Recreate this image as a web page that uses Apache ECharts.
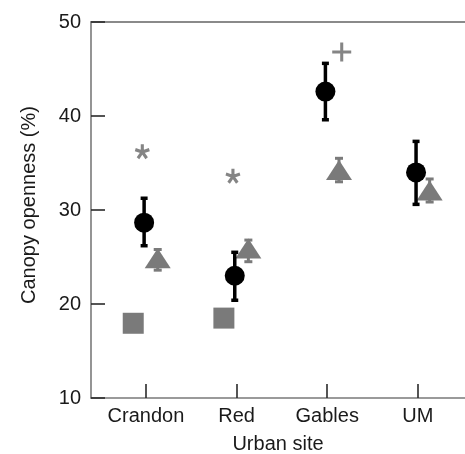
<!DOCTYPE html>
<html>
<head>
<meta charset="utf-8">
<script src="https://cdn.jsdelivr.net/npm/echarts@6/dist/echarts.min.js"></script>
<style>html,body{margin:0;padding:0;background:#fff}#c{width:465px;height:454px}</style>
</head>
<body>
<div id="c"></div>
<script>
// ---- data ----
var sites = ['Crandon', 'Red', 'Gables', 'UM'];
var yTicks = [10, 20, 30, 40, 50];
var circleMean = [28.65, 23.0, 42.6, 34.0];
var circleLow  = [26.2, 20.4, 39.6, 30.6];
var circleHigh = [31.25, 25.5, 45.6, 37.3];
var triangleMean = [24.86, 25.9, 34.26, 32.07];
var triangleLow  = [23.6, 24.5, 33.0, 30.85];
var triangleHigh = [25.8, 26.8, 35.5, 33.3];
var squareVal   = [17.95, 18.5, null, null];
var asteriskVal = [36.2, 33.6, null, null];
var plusVal     = [null, null, 46.8, null];

// ---- styling constants ----
var GRAY = '#7a7a7a';
var FONT = 'Liberation Sans, Arial, Helvetica, sans-serif';
var off = { circle: -0.02, triangle: 0.13, square: -0.14, asterisk: -0.04, plus: 0.16 };

function pts(vals, dx) {
  var out = [];
  vals.forEach(function (v, i) { if (v != null) out.push([i + 1 + dx, v]); });
  return out;
}
function errPts(lo, hi, dx) {
  return lo.map(function (l, i) { return [i + 1 + dx, l, hi[i]]; });
}
function starPath(n, w) {
  var d = '';
  for (var i = 0; i < n; i++) {
    var t = i * 2 * Math.PI / n;
    var dx = Math.sin(t), dy = -Math.cos(t);
    var px = Math.cos(t), py = Math.sin(t);
    var s = -w / 2;
    var c = [
      [s * dx + px * w / 2, s * dy + py * w / 2],
      [dx + px * w / 2, dy + py * w / 2],
      [dx - px * w / 2, dy - py * w / 2],
      [s * dx - px * w / 2, s * dy - py * w / 2]
    ];
    d += 'M' + c.map(function (p) { return (p[0] * 100 + 100).toFixed(2) + ',' + (p[1] * 100 + 100).toFixed(2); }).join('L') + 'Z';
  }
  return 'path://' + d;
}
var plusPath = 'path://M42,0L58,0L58,42L100,42L100,58L58,58L58,100L42,100L42,58L0,58L0,42L42,42Z';

function errRenderer(color, lw, cap) {
  return function (params, api) {
    var x = api.value(0);
    var p1 = api.coord([x, api.value(1)]);
    var p2 = api.coord([x, api.value(2)]);
    var st = { stroke: color, lineWidth: lw };
    return {
      type: 'group',
      children: [
        { type: 'line', shape: { x1: p1[0], y1: p1[1], x2: p2[0], y2: p2[1] }, style: st },
        { type: 'line', shape: { x1: p1[0] - cap / 2, y1: p1[1], x2: p1[0] + cap / 2, y2: p1[1] }, style: st },
        { type: 'line', shape: { x1: p2[0] - cap / 2, y1: p2[1], x2: p2[0] + cap / 2, y2: p2[1] }, style: st }
      ]
    };
  };
}

var chart = echarts.init(document.getElementById('c'), null, { renderer: 'canvas' });
var xTickVals = sites.map(function (s, i) { return i + 1; });
chart.setOption({
  animation: false,
  backgroundColor: '#fff',
  textStyle: { fontFamily: FONT },
  grid: { left: 91, right: 0, top: 22, bottom: 56, containLabel: false, outerBoundsMode: 'none' },
  xAxis: [{
    type: 'value', min: 0.394, max: 4.52,
    name: 'Urban site', nameLocation: 'middle', nameGap: 36,
    nameTextStyle: { fontSize: 20, color: '#1a1a1a', fontFamily: FONT },
    axisLine: { show: true, lineStyle: { color: '#7a7a7a', width: 1.6 } },
    axisTick: { show: true, inside: true, length: 14, customValues: xTickVals, lineStyle: { color: '#2a2a2a', width: 1.6 } },
    axisLabel: { customValues: xTickVals, margin: 8, fontSize: 20, color: '#1a1a1a', fontFamily: FONT,
      formatter: function (v) { return sites[Math.round(v) - 1] || ''; } },
    splitLine: { show: false }
  }, {
    type: 'value', min: 0.394, max: 4.52, position: 'top',
    axisLine: { show: true, lineStyle: { color: '#8a8a8a', width: 1.8 } },
    axisTick: { show: false }, axisLabel: { show: false }, splitLine: { show: false }
  }],
  yAxis: {
    type: 'value', min: yTicks[0], max: yTicks[yTicks.length - 1], interval: 10,
    name: 'Canopy openness (%)', nameLocation: 'middle', nameGap: 52, nameRotate: 90,
    nameTextStyle: { fontSize: 20, color: '#1a1a1a', fontFamily: FONT, padding: [0, 0, 0, 10] },
    axisLine: { show: true, lineStyle: { color: '#7a7a7a', width: 1.6 } },
    axisTick: { show: true, inside: true, length: 14, lineStyle: { color: '#2a2a2a', width: 1.6 } },
    axisLabel: { margin: 10, fontSize: 20, color: '#1a1a1a', fontFamily: FONT },
    splitLine: { show: false }
  },
  series: [
    { type: 'custom', renderItem: errRenderer(GRAY, 3, 8), data: errPts(triangleLow, triangleHigh, off.triangle), z: 2 },
    { type: 'scatter', symbol: 'triangle', symbolSize: [26, 20], itemStyle: { color: GRAY, opacity: 1 }, data: pts(triangleMean, off.triangle), z: 3 },
    { type: 'scatter', symbol: 'rect', symbolSize: 21, itemStyle: { color: GRAY, opacity: 1 }, data: pts(squareVal, off.square), z: 3 },
    { type: 'scatter', symbol: starPath(5, 0.42), symbolSize: [15, 15], itemStyle: { color: '#858585', opacity: 1 }, data: pts(asteriskVal, off.asterisk), z: 3 },
    { type: 'scatter', symbol: plusPath, symbolSize: 19, itemStyle: { color: '#858585', opacity: 1 }, data: pts(plusVal, off.plus), z: 3 },
    { type: 'custom', renderItem: errRenderer('#000', 3.5, 7), data: errPts(circleLow, circleHigh, off.circle), z: 4 },
    { type: 'scatter', symbol: 'circle', symbolSize: 20, itemStyle: { color: '#000', opacity: 1 }, data: pts(circleMean, off.circle), z: 5 }
  ]
});
</script>
</body>
</html>
